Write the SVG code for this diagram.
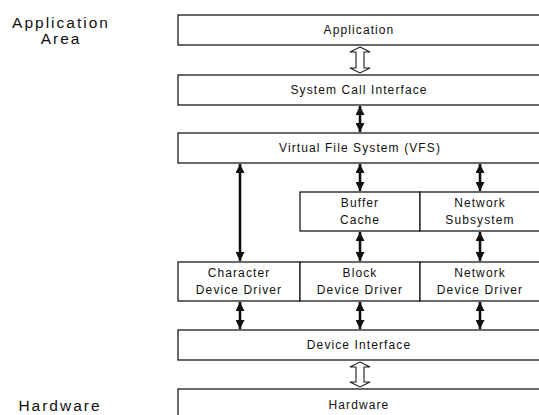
<svg xmlns="http://www.w3.org/2000/svg" width="539" height="415" viewBox="0 0 539 415">
  <style>
    .box { fill: #fff; stroke: #1a1a1a; stroke-width: 1.3; }
    .lbl { font-family: "Liberation Sans", Arial, sans-serif; font-size: 12px; letter-spacing: 1.1px; fill: #111; text-anchor: middle; }
    .side { font-family: "Liberation Sans", Arial, sans-serif; font-size: 15.5px; letter-spacing: 2px; fill: #111; text-anchor: middle; }
    .link { stroke: #111; stroke-width: 2.6; fill: none; marker-start: url(#head); marker-end: url(#head); }
    .hollow { fill: #fff; stroke: #1a1a1a; stroke-width: 1.1; stroke-linejoin: miter; }
  </style>
  <defs>
    <marker id="head" viewBox="0 0 10 10" refX="10" refY="5" markerWidth="9" markerHeight="9" markerUnits="userSpaceOnUse" orient="auto-start-reverse">
      <path d="M0,0 L10,5 L0,10 Z" fill="#111"/>
    </marker>
  </defs>

  <!-- side captions -->
  <g id="area-labels">
    <text class="side" x="61" y="28">Application</text>
    <text class="side" x="61" y="44">Area</text>
    <text class="side" x="60" y="411">Hardware</text>
  </g>

  <!-- layers -->
  <g id="application">
    <rect class="box" x="178" y="15" width="364" height="30"/>
    <text class="lbl" x="359" y="34">Application</text>
  </g>
  <g id="syscall">
    <rect class="box" x="178" y="75" width="364" height="30"/>
    <text class="lbl" x="359" y="94">System Call Interface</text>
  </g>
  <g id="vfs">
    <rect class="box" x="178" y="133" width="364" height="30"/>
    <text class="lbl" x="360" y="152">Virtual File System (VFS)</text>
  </g>
  <g id="buffer-cache">
    <rect class="box" x="300" y="192" width="120" height="39"/>
    <text class="lbl" x="360" y="207">Buffer</text>
    <text class="lbl" x="360" y="224">Cache</text>
  </g>
  <g id="network-subsystem">
    <rect class="box" x="420" y="192" width="122" height="39"/>
    <text class="lbl" x="480" y="207">Network</text>
    <text class="lbl" x="480" y="224">Subsystem</text>
  </g>
  <g id="char-driver">
    <rect class="box" x="178" y="262" width="122" height="39"/>
    <text class="lbl" x="239" y="277">Character</text>
    <text class="lbl" x="239" y="294">Device Driver</text>
  </g>
  <g id="block-driver">
    <rect class="box" x="300" y="262" width="120" height="39"/>
    <text class="lbl" x="360" y="277">Block</text>
    <text class="lbl" x="360" y="294">Device Driver</text>
  </g>
  <g id="net-driver">
    <rect class="box" x="420" y="262" width="122" height="39"/>
    <text class="lbl" x="480" y="277">Network</text>
    <text class="lbl" x="480" y="294">Device Driver</text>
  </g>
  <g id="device-interface">
    <rect class="box" x="178" y="330" width="364" height="30"/>
    <text class="lbl" x="359" y="349">Device Interface</text>
  </g>
  <g id="hardware">
    <rect class="box" x="178" y="389" width="364" height="40"/>
    <text class="lbl" x="359" y="409">Hardware</text>
  </g>

  <!-- connectors -->
  <g id="connectors">
    <path class="hollow" d="M360,47 L370,52 L364,52 L364,68 L370,68 L360,73 L350,68 L356,68 L356,52 L350,52 Z"/>
    <line class="link" x1="360" y1="106" x2="360" y2="132"/>
    <line class="link" x1="240" y1="164" x2="240" y2="261"/>
    <line class="link" x1="360" y1="164" x2="360" y2="191"/>
    <line class="link" x1="480" y1="164" x2="480" y2="191"/>
    <line class="link" x1="360" y1="232" x2="360" y2="261"/>
    <line class="link" x1="480" y1="232" x2="480" y2="261"/>
    <line class="link" x1="240" y1="302" x2="240" y2="329"/>
    <line class="link" x1="360" y1="302" x2="360" y2="329"/>
    <line class="link" x1="480" y1="302" x2="480" y2="329"/>
    <path class="hollow" d="M360,362 L370,367 L364,367 L364,382 L370,382 L360,387 L350,382 L356,382 L356,367 L350,367 Z"/>
  </g>
</svg>
